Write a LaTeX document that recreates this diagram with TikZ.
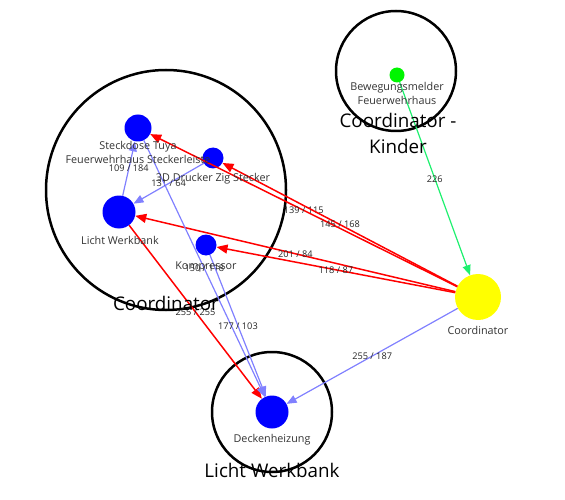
\documentclass[tikz,border=0pt]{standalone}
\usepackage{fontspec}
\setmainfont{Open Sans}
\usetikzlibrary{arrows.meta}
\definecolor{devblue}{RGB}{0,0,255}
\definecolor{linkblue}{RGB}{128,128,255}
\definecolor{linkgreen}{RGB}{30,240,110}
\definecolor{sensgreen}{RGB}{0,245,0}
\definecolor{coordyellow}{RGB}{255,255,0}

\begin{document}
\begin{tikzpicture}[x=1pt, y=-1pt,
  gnode/.style={draw, circle, line width=2.5pt, inner sep=0pt},
  dnode/.style={fill=devblue, circle, inner sep=0pt},
  tnode/.style={font=\fontsize{10.8}{14}\selectfont, align=center, inner sep=0pt, text=black!80},
  bignode/.style={font=\fontsize{18.8}{26}\selectfont, align=center, inner sep=0pt},
  elabel/.style={font=\fontsize{9.2}{10}\selectfont, inner sep=0pt, text=black!85},
  redge/.style={red, line width=1.5pt, -{Triangle[length=11pt,width=9pt]}},
  bedge/.style={linkblue, line width=1.2pt, -{Triangle[length=10pt,width=8pt]}},
  gedge/.style={linkgreen, line width=1.2pt, -{Triangle[length=10pt,width=8pt]}}]
    \useasboundingbox (0,0) rectangle (565,500);

    % groups
    \node[gnode, minimum size=240pt] (g1) at (166, 190) {};
    \node[gnode, minimum size=120pt] (g2) at (396, 71) {};
    \node[gnode, minimum size=120pt] (g3) at (272, 412) {};

    % devices
    \node[dnode, minimum size=27pt] (steck) at (138, 128) {};
    \node[dnode, minimum size=21pt] (leiste) at (213, 158) {};
    \node[dnode, minimum size=33pt] (werk) at (119, 212) {};
    \node[dnode, minimum size=21pt] (kompr) at (206, 245) {};
    \node[dnode, minimum size=33pt] (decke) at (272, 412) {};
    \node[circle, fill=coordyellow, inner sep=0pt, minimum size=46pt] (coord) at (478, 297) {};
    \node[circle, fill=sensgreen, inner sep=0pt, minimum size=15pt] (bewegung) at (397, 75) {};

    \draw[redge] (coord) edge node[elabel] {139 / 115} (steck);
    \draw[redge] (coord) edge node[elabel] {145 / 168} (leiste);
    \draw[redge] (coord) edge node[elabel] {201 / 84} (werk);
    \draw[redge] (coord) edge node[elabel] {118 / 87} (kompr);
    \draw[bedge] (coord) edge node[elabel] {255 / 187} (decke);
    \draw[gedge] (bewegung) edge node[elabel] {226} (coord);
    \draw[bedge] (werk) edge node[elabel] {109 / 184} (steck);
    \draw[bedge] (leiste) edge node[elabel] {131 / 64} (werk);
    \draw[redge] (werk) edge node[elabel] {255 / 255} (decke);
    \draw[bedge] (steck) edge node[elabel] {150 / 118} (decke);
    \draw[bedge] (kompr) edge node[elabel] {177 / 103} (decke);

    % labels
    \node[tnode] (steckl) at (138, 152) {Steckdose Tuya\\Feuerwehrhaus Steckerleiste};
    \node[tnode] (leistel) at (213, 179) {3D Drucker Zig Stecker};
    \node[tnode] (werkl) at (120, 240) {Licht Werkbank};
    \node[tnode] (komprl) at (206, 267) {Kompressor};
    \node[tnode] (deckel) at (272, 440) {Deckenheizung};
    \node[tnode] (coordl) at (478, 330) {Coordinator};
    \node[tnode] (bewegungl) at (397, 93) {Bewegungsmelder\\Feuerwehrhaus};
    \node[bignode] (g1l) at (166, 303) {Coordinator};
    \node[bignode] (g2l) at (398, 133) {Coordinator -\\Kinder};
    \node[bignode] (g3l) at (272, 470) {Licht Werkbank};
\end{tikzpicture}
\end{document}
